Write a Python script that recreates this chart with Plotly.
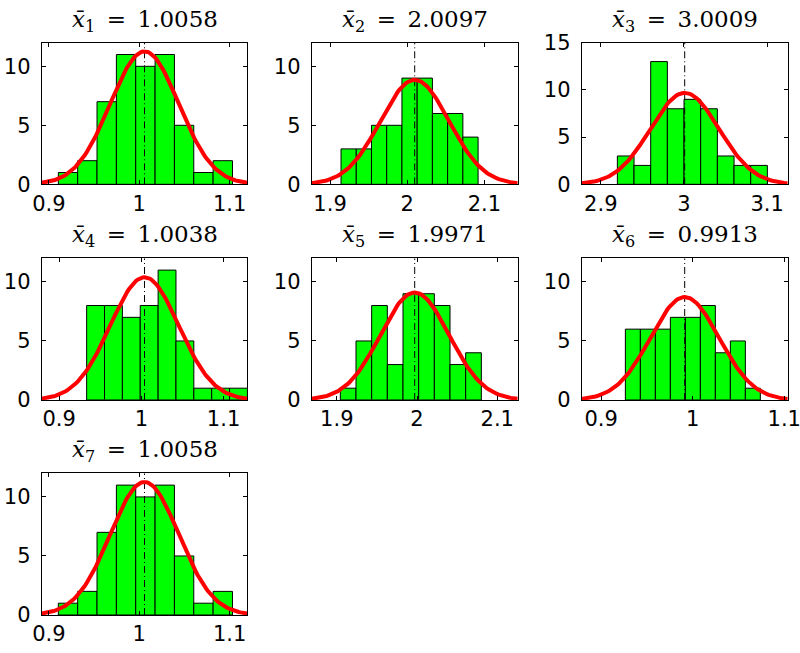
import numpy as np
import plotly.graph_objects as go

# ---- data ----
n_samples = 50
title_means = ["1.0058", "2.0097", "3.0009", "1.0038", "1.9971", "0.9913", "1.0058"]
mu = [1.0058, 2.0097, 3.0009, 1.0038, 1.9971, 0.9913, 1.0058]
sigma = [0.0379, 0.0445, 0.0413, 0.0417, 0.0428, 0.0375, 0.0379]
first_edge = [0.9105, 1.9142, 2.9199, 0.9334, 1.9044, 0.9265, 0.9105]
bin_width = [0.0214, 0.01974, 0.02005, 0.02174, 0.01953, 0.01638, 0.0214]
counts = [
    [1, 2, 7, 11, 10, 11, 5, 1, 2],
    [3, 3, 5, 5, 9, 9, 6, 6, 4],
    [3, 2, 13, 8, 9, 8, 3, 2, 2],
    [8, 8, 7, 8, 11, 5, 1, 1, 1],
    [1, 5, 8, 3, 9, 9, 8, 3, 4],
    [6, 6, 6, 7, 7, 8, 4, 5, 1],
    [1, 2, 7, 11, 10, 11, 5, 1, 2],
]
x_ticks = [[0.9, 1, 1.1], [1.9, 2, 2.1], [2.9, 3, 3.1], [0.9, 1, 1.1],
           [1.9, 2, 2.1], [0.9, 1, 1.1], [0.9, 1, 1.1]]
x_tick_text = [["0.9", "1", "1.1"], ["1.9", "2", "2.1"], ["2.9", "3", "3.1"], ["0.9", "1", "1.1"],
               ["1.9", "2", "2.1"], ["0.9", "1", "1.1"], ["0.9", "1", "1.1"]]
y_max = [12, 12, 15, 12, 12, 12, 12]
y_ticks = [[0, 5, 10], [0, 5, 10], [0, 5, 10, 15], [0, 5, 10], [0, 5, 10], [0, 5, 10], [0, 5, 10]]

# ---- layout geometry ----
W, H = 800, 653
col_px = [(41.7, 247.3), (311.7, 517.7), (581.7, 787.7)]
row_px = [(42.7, 184.3), (258.3, 400.0), (473.3, 615.0)]
title_y_px = [19, 234, 449]

TICK_FONT = dict(family="DejaVu Sans", size=21, color="black")
TITLE_FONT = dict(family="DejaVu Serif", size=23, color="black")

fig = go.Figure()
layout = dict(
    template="none",
    width=W, height=H, margin=dict(l=0, r=0, t=0, b=0, autoexpand=False),
    paper_bgcolor="white", plot_bgcolor="white", showlegend=False,
    annotations=[],
)

for i in range(7):
    r, c = divmod(i, 3)
    k = "" if i == 0 else str(i + 1)
    xa, ya = "x" + k, "y" + k
    m, s, bw = mu[i], sigma[i], bin_width[i]
    lo, hi = m - 3 * s, m + 3 * s
    edges = first_edge[i] + bw * np.arange(len(counts[i]) + 1)
    centers = (edges[:-1] + edges[1:]) / 2

    fig.add_trace(go.Bar(
        x=centers, y=counts[i], width=bw, xaxis=xa, yaxis=ya,
        marker=dict(color="#00ff00", line=dict(color="black", width=1)),
        hoverinfo="skip",
    ))
    fig.add_trace(go.Scatter(
        x=[m, m], y=[0, y_max[i]], mode="lines", xaxis=xa, yaxis=ya,
        line=dict(color="black", width=1, dash="7px,3px,1px,3px"),
        hoverinfo="skip",
    ))
    xc = np.linspace(lo, hi, 121)
    yc = n_samples * bw * np.exp(-0.5 * ((xc - m) / s) ** 2) / (s * np.sqrt(2 * np.pi))
    fig.add_trace(go.Scatter(
        x=xc, y=yc, mode="lines", xaxis=xa, yaxis=ya,
        line=dict(color="red", width=4), hoverinfo="skip",
    ))

    x0, x1 = col_px[c]
    y0, y1 = row_px[r]
    axis_common = dict(
        showline=True, linecolor="black", linewidth=1, mirror="ticks",
        ticks="inside", ticklen=4, tickwidth=1, tickcolor="black",
        showgrid=False, zeroline=False, tickfont=TICK_FONT,
        automargin=False, ticklabeloverflow="allow",
    )
    layout["xaxis" + k] = dict(
        domain=[x0 / W, x1 / W], range=[lo, hi], anchor=ya,
        tickmode="array", tickvals=x_ticks[i], ticktext=x_tick_text[i],
        ticklabelstandoff=0, **axis_common,
    )
    layout["yaxis" + k] = dict(
        domain=[1 - y1 / H, 1 - y0 / H], range=[0, y_max[i]], anchor=xa,
        tickmode="array", tickvals=y_ticks[i], ticktext=[str(v) for v in y_ticks[i]],
        ticklabelstandoff=6, **axis_common,
    )
    layout["annotations"].append(dict(
        text="<i>x\u0304</i><sub>%d</sub>\u2002=\u2002%s" % (i + 1, title_means[i]),
        x=(x0 + x1) / 2 / W, y=1 - (title_y_px[r] + 2) / H, xref="paper", yref="paper",
        xanchor="center", yanchor="middle", showarrow=False, font=TITLE_FONT,
    ))

fig.update_layout(**layout)
fig.write_html("out.html")
